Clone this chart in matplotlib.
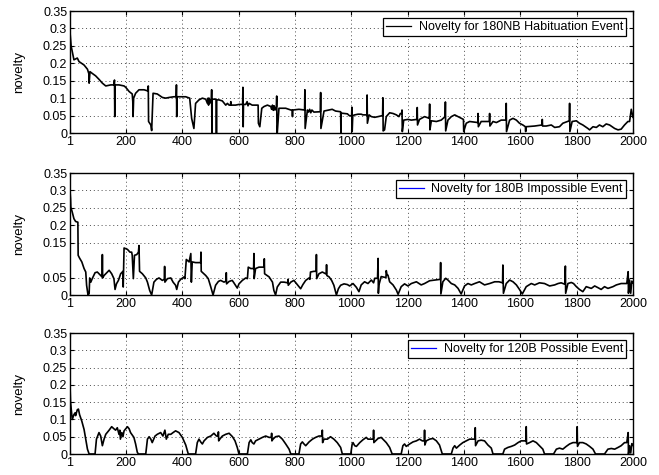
import matplotlib
matplotlib.use("Agg")
import matplotlib.pyplot as plt
from matplotlib.lines import Line2D

plt.rcParams['font.family'] = ['Liberation Sans', 'DejaVu Sans']
plt.rcParams['font.size'] = 9

# novelty traces, (sample index, novelty)
habituation = [
    (1, 0.29), (5, 0.25), (15, 0.21), (27, 0.215), (33, 0.205), (51, 0.195), (63, 0.183),
    (68, 0.17), (69, 0.143), (72, 0.176), (80, 0.171), (92, 0.164), (104, 0.154), (116, 0.143),
    (128, 0.135), (146, 0.138), (157, 0.138), (159, 0.152), (160, 0.047), (161, 0.138),
    (175, 0.138), (193, 0.135), (199, 0.131), (211, 0.119), (222, 0.112), (224, 0.09),
    (225, 0.047), (227, 0.1), (234, 0.114), (246, 0.124), (264, 0.124), (276, 0.121),
    (278, 0.121), (279, 0.135), (280, 0.033), (288, 0.023), (291, 0.007), (296, 0.114),
    (311, 0.112), (329, 0.102), (341, 0.1), (353, 0.102), (370, 0.104), (378, 0.104),
    (379, 0.138), (380, 0.047), (381, 0.104), (412, 0.104), (426, 0.1), (433, 0.042),
    (441, 0.013), (447, 0.085), (459, 0.095), (471, 0.1), (483, 0.097), (489, 0.085),
    (491, 0.1), (493, 0.08), (495, 0.1), (497, 0.085), (499, 0.095), (503, 0.09), (504, 0.124),
    (505, 0.0), (506, 0.097), (520, 0.097), (521, 0.0), (522, 0.095), (530, 0.095),
    (542, 0.092), (554, 0.08), (560, 0.085), (566, 0.08), (571, 0.08), (572, 0.09), (573, 0.08),
    (589, 0.08), (601, 0.082), (614, 0.082), (615, 0.131), (616, 0.018), (617, 0.082),
    (625, 0.082), (630, 0.09), (633, 0.078), (637, 0.085), (648, 0.08), (660, 0.08),
    (669, 0.08), (670, 0.028), (675, 0.018), (682, 0.071), (690, 0.076), (702, 0.08),
    (714, 0.076), (717, 0.068), (720, 0.08), (723, 0.065), (726, 0.078), (729, 0.066),
    (734, 0.076), (735, 0.106), (736, 0.0), (737, 0.0), (743, 0.071), (767, 0.071),
    (785, 0.066), (790, 0.066), (791, 0.047), (792, 0.066), (814, 0.068), (834, 0.066),
    (835, 0.124), (836, 0.013), (844, 0.066), (848, 0.06), (852, 0.068), (856, 0.058),
    (860, 0.066), (867, 0.06), (890, 0.061), (891, 0.116), (892, 0.013), (903, 0.063),
    (921, 0.066), (932, 0.068), (944, 0.063), (962, 0.061), (963, 0.0), (964, 0.057),
    (986, 0.055), (994, 0.049), (1001, 0.05), (1002, 0.074), (1003, 0.004), (1005, 0.05),
    (1012, 0.052), (1024, 0.054), (1035, 0.054), (1041, 0.052), (1055, 0.052), (1056, 0.109),
    (1057, 0.028), (1063, 0.052), (1071, 0.047), (1083, 0.045), (1095, 0.047), (1111, 0.05),
    (1112, 0.101), (1113, 0.006), (1118, 0.009), (1124, 0.047), (1136, 0.058), (1148, 0.056),
    (1160, 0.052), (1169, 0.047), (1174, 0.056), (1179, 0.056), (1180, 0.066), (1181, 0.004),
    (1186, 0.037), (1201, 0.039), (1213, 0.037), (1233, 0.039), (1234, 0.073), (1235, 0.023),
    (1242, 0.039), (1260, 0.047), (1277, 0.042), (1278, 0.083), (1279, 0.009), (1284, 0.035),
    (1302, 0.033), (1319, 0.037), (1333, 0.047), (1334, 0.089), (1335, 0.006), (1343, 0.037),
    (1355, 0.047), (1367, 0.052), (1379, 0.047), (1398, 0.039), (1399, 0.004), (1408, 0.028),
    (1420, 0.033), (1449, 0.03), (1450, 0.056), (1451, 0.018), (1461, 0.033), (1490, 0.033),
    (1491, 0.056), (1492, 0.02), (1503, 0.033), (1515, 0.03), (1532, 0.037), (1549, 0.037),
    (1550, 0.085), (1551, 0.004), (1562, 0.037), (1574, 0.042), (1586, 0.037), (1597, 0.028),
    (1609, 0.023), (1618, 0.018), (1619, 0.004), (1620, 0.018), (1651, 0.02), (1677, 0.023),
    (1678, 0.039), (1679, 0.02), (1692, 0.02), (1710, 0.023), (1722, 0.016), (1739, 0.018),
    (1751, 0.028), (1774, 0.035), (1775, 0.085), (1776, 0.004), (1784, 0.033), (1799, 0.035),
    (1810, 0.028), (1822, 0.023), (1840, 0.013), (1846, 0.009), (1858, 0.018), (1870, 0.016),
    (1881, 0.023), (1893, 0.018), (1905, 0.026), (1917, 0.023), (1935, 0.013), (1947, 0.009),
    (1958, 0.011), (1970, 0.023), (1982, 0.033), (1988, 0.033), (1994, 0.068), (2000, 0.045),
]

impossible = [
    (1, 0.30), (3, 0.276), (4, 0.252), (9, 0.238), (15, 0.219), (21, 0.211), (29, 0.209),
    (30, 0.114), (35, 0.106), (43, 0.095), (51, 0.076), (57, 0.066), (60, 0.028), (65, 0.0),
    (69, 0.004), (71, 0.049), (75, 0.037), (80, 0.047), (90, 0.064), (98, 0.066), (110, 0.056),
    (115, 0.052), (116, 0.116), (117, 0.049), (122, 0.056), (134, 0.066), (140, 0.071),
    (149, 0.061), (157, 0.047), (161, 0.016), (166, 0.032), (173, 0.042), (181, 0.061),
    (189, 0.068), (190, 0.023), (193, 0.135), (205, 0.131), (214, 0.123), (220, 0.123),
    (222, 0.114), (226, 0.047), (230, 0.114), (238, 0.116), (244, 0.123), (246, 0.142),
    (248, 0.068), (258, 0.061), (270, 0.049), (276, 0.037), (284, 0.013), (291, 0.0),
    (299, 0.037), (308, 0.045), (317, 0.049), (329, 0.042), (336, 0.045), (337, 0.082),
    (338, 0.037), (347, 0.047), (359, 0.049), (367, 0.037), (376, 0.028), (380, 0.016),
    (386, 0.037), (394, 0.045), (406, 0.052), (409, 0.047), (414, 0.102), (424, 0.095),
    (430, 0.119), (432, 0.037), (435, 0.095), (447, 0.093), (465, 0.093), (466, 0.123),
    (467, 0.068), (483, 0.056), (492, 0.047), (501, 0.023), (509, 0.0), (518, 0.028),
    (528, 0.039), (536, 0.042), (548, 0.037), (555, 0.04), (556, 0.064), (557, 0.032),
    (566, 0.039), (577, 0.042), (583, 0.035), (595, 0.02), (601, 0.032), (613, 0.042),
    (625, 0.049), (631, 0.047), (634, 0.08), (643, 0.076), (653, 0.076), (654, 0.119),
    (655, 0.047), (660, 0.076), (672, 0.08), (690, 0.08), (691, 0.104), (692, 0.061),
    (708, 0.052), (720, 0.037), (725, 0.013), (731, 0.0), (737, 0.023), (749, 0.037),
    (761, 0.037), (774, 0.035), (775, 0.045), (776, 0.028), (785, 0.037), (796, 0.042),
    (808, 0.03), (820, 0.018), (828, 0.03), (838, 0.042), (850, 0.049), (853, 0.045),
    (855, 0.066), (867, 0.068), (875, 0.068), (876, 0.116), (877, 0.047), (885, 0.061),
    (897, 0.066), (911, 0.06), (912, 0.087), (913, 0.056), (921, 0.052), (930, 0.042),
    (938, 0.028), (947, 0.0), (954, 0.018), (962, 0.028), (974, 0.032), (986, 0.03),
    (994, 0.026), (1006, 0.033), (1018, 0.022), (1027, 0.0096), (1035, 0.029), (1047, 0.038),
    (1059, 0.033), (1071, 0.043), (1079, 0.035), (1083, 0.048), (1093, 0.048), (1095, 0.105),
    (1096, 0.005), (1098, 0.029), (1106, 0.053), (1123, 0.05), (1124, 0.07), (1127, 0.057),
    (1130, 0.057), (1136, 0.038), (1148, 0.029), (1160, 0.014), (1166, 0.002), (1177, 0.024),
    (1189, 0.032), (1201, 0.026), (1213, 0.033), (1231, 0.038), (1248, 0.029), (1260, 0.033),
    (1278, 0.041), (1296, 0.043), (1316, 0.045), (1317, 0.093), (1318, 0.003), (1325, 0.038),
    (1335, 0.048), (1343, 0.043), (1355, 0.033), (1367, 0.029), (1379, 0.019), (1390, 0.003),
    (1402, 0.026), (1414, 0.033), (1426, 0.029), (1438, 0.033), (1455, 0.038), (1473, 0.029),
    (1491, 0.033), (1509, 0.038), (1524, 0.038), (1537, 0.035), (1538, 0.086), (1540, 0.005),
    (1550, 0.033), (1562, 0.043), (1574, 0.038), (1586, 0.029), (1597, 0.016), (1607, 0.003),
    (1621, 0.024), (1639, 0.033), (1651, 0.029), (1668, 0.035), (1686, 0.033), (1704, 0.026),
    (1722, 0.029), (1734, 0.033), (1745, 0.035), (1758, 0.031), (1760, 0.083), (1761, 0.005),
    (1769, 0.033), (1781, 0.036), (1789, 0.033), (1799, 0.024), (1810, 0.016), (1822, 0.0096),
    (1834, 0.024), (1852, 0.019), (1864, 0.026), (1876, 0.021), (1887, 0.016), (1899, 0.024),
    (1911, 0.019), (1929, 0.024), (1941, 0.029), (1958, 0.033), (1978, 0.033), (1983, 0.067),
    (1984, 0.005), (1988, 0.043), (1992, 0.005), (1996, 0.04), (2000, 0.035),
]

possible = [
    (1, 0.20), (3, 0.15), (5, 0.133), (9, 0.10), (15, 0.114), (19, 0.119), (21, 0.111),
    (27, 0.128), (31, 0.13), (35, 0.114), (43, 0.095), (51, 0.071), (57, 0.043), (63, 0.014),
    (69, 0.0), (90, 0.0), (95, 0.043), (104, 0.062), (110, 0.052), (116, 0.024), (122, 0.043),
    (128, 0.057), (140, 0.069), (149, 0.079), (157, 0.073), (163, 0.069), (169, 0.076),
    (175, 0.057), (177, 0.057), (178, 0.069), (180, 0.043), (185, 0.062), (189, 0.05),
    (193, 0.067), (199, 0.073), (205, 0.079), (211, 0.073), (216, 0.062), (228, 0.048),
    (234, 0.029), (240, 0.005), (244, 0.0), (270, 0.0), (276, 0.043), (282, 0.05),
    (288, 0.043), (293, 0.033), (303, 0.052), (311, 0.057), (323, 0.062), (331, 0.052),
    (338, 0.069), (343, 0.043), (350, 0.057), (359, 0.057), (367, 0.062), (376, 0.067),
    (388, 0.062), (400, 0.048), (412, 0.026), (421, 0.0), (447, 0.0), (453, 0.033),
    (459, 0.043), (465, 0.035), (471, 0.029), (477, 0.038), (489, 0.048), (501, 0.052),
    (512, 0.06), (521, 0.052), (527, 0.052), (528, 0.064), (529, 0.038), (533, 0.043),
    (542, 0.052), (554, 0.057), (566, 0.06), (578, 0.05), (587, 0.038), (595, 0.019),
    (601, 0.0), (631, 0.0), (637, 0.033), (643, 0.041), (648, 0.033), (654, 0.029),
    (660, 0.038), (672, 0.043), (684, 0.048), (696, 0.052), (708, 0.048), (716, 0.048),
    (717, 0.06), (718, 0.038), (722, 0.043), (731, 0.05), (743, 0.052), (755, 0.043),
    (767, 0.029), (779, 0.014), (785, 0.0), (814, 0.0), (820, 0.029), (826, 0.035),
    (832, 0.029), (838, 0.024), (850, 0.035), (862, 0.043), (873, 0.048), (885, 0.052),
    (896, 0.052), (897, 0.069), (898, 0.033), (903, 0.043), (915, 0.043), (926, 0.05),
    (938, 0.043), (950, 0.033), (962, 0.019), (968, 0.0), (998, 0.0), (1003, 0.029),
    (1006, 0.033), (1012, 0.024), (1018, 0.022), (1030, 0.033), (1041, 0.041), (1053, 0.048),
    (1059, 0.043), (1078, 0.043), (1079, 0.069), (1080, 0.033), (1086, 0.038), (1095, 0.045),
    (1106, 0.048), (1112, 0.043), (1124, 0.033), (1136, 0.019), (1145, 0.0), (1177, 0.0),
    (1183, 0.024), (1189, 0.029), (1195, 0.022), (1207, 0.029), (1219, 0.035), (1231, 0.038),
    (1242, 0.043), (1252, 0.038), (1259, 0.038), (1260, 0.069), (1261, 0.026), (1266, 0.038),
    (1278, 0.043), (1290, 0.045), (1302, 0.038), (1313, 0.026), (1323, 0.0), (1355, 0.0),
    (1361, 0.017), (1367, 0.024), (1373, 0.017), (1385, 0.026), (1396, 0.033), (1408, 0.038),
    (1420, 0.043), (1439, 0.043), (1440, 0.076), (1441, 0.024), (1450, 0.038), (1461, 0.04),
    (1473, 0.038), (1485, 0.026), (1497, 0.017), (1503, 0.0), (1538, 0.0), (1544, 0.014),
    (1556, 0.019), (1568, 0.022), (1580, 0.026), (1592, 0.033), (1603, 0.038), (1620, 0.038),
    (1621, 0.079), (1622, 0.029), (1633, 0.033), (1645, 0.038), (1657, 0.033), (1668, 0.024),
    (1680, 0.014), (1686, 0.0), (1718, 0.0), (1728, 0.014), (1739, 0.017), (1751, 0.014),
    (1763, 0.022), (1775, 0.029), (1787, 0.033), (1801, 0.033), (1802, 0.079), (1803, 0.022),
    (1810, 0.033), (1822, 0.033), (1834, 0.029), (1846, 0.022), (1858, 0.014), (1867, 0.0),
    (1899, 0.0), (1911, 0.014), (1923, 0.016), (1935, 0.014), (1947, 0.019), (1958, 0.024),
    (1970, 0.033), (1978, 0.033), (1983, 0.062), (1984, 0.0), (1988, 0.024), (1992, 0.003),
    (1996, 0.03), (2000, 0.025),
]

labels = ['Novelty for 180NB Habituation Event',
          'Novelty for 180B Impossible Event',
          'Novelty for 120B Possible Event']
legend_colors = ['black', 'blue', 'blue']
xticks = [1, 200, 400, 600, 800, 1000, 1200, 1400, 1600, 1800, 2000]
yticks_full = [0, 0.05, 0.1, 0.15, 0.2, 0.25, 0.3, 0.35]
yticks_no01 = [0, 0.05, 0.15, 0.2, 0.25, 0.3, 0.35]

series = [(habituation, yticks_full), (impossible, yticks_no01), (possible, yticks_full)]
boxes = [[0.1062, 0.720, 0.8543, 0.2568],
         [0.1062, 0.3789, 0.8543, 0.2568],
         [0.1062, 0.0442, 0.8543, 0.2547]]

fig = plt.figure(figsize=(6.59, 4.75), dpi=100)
for (pts, yt), box, lab, lc in zip(series, boxes, labels, legend_colors):
    ax = fig.add_axes(box)
    xs, ys = zip(*pts)
    ax.plot(xs, ys, color='black', linewidth=1.2)
    ax.set_xlim(1, 2000)
    ax.set_ylim(0, 0.35)
    ax.set_xticks(xticks)
    ax.set_yticks(yt)
    ax.set_yticklabels([('%g' % t) for t in yt])
    ax.grid(True, linestyle=(0, (1, 3)), color='0.3', linewidth=0.7)
    ax.tick_params(direction='in', top=True, right=True, length=3, width=0.8, pad=2)
    for s in ax.spines.values():
        s.set_linewidth(1.0)
    ax.set_ylabel('novelty', fontsize=9.5)
    ax.yaxis.set_label_coords(-0.08, 0.5)
    h = Line2D([], [], color=lc, linewidth=0.9)
    leg = ax.legend([h], [lab], loc='upper right', fancybox=False, framealpha=1,
                    edgecolor='black', handlelength=2.0, borderaxespad=0.55,
                    borderpad=0.25, handletextpad=0.6)
    leg.get_frame().set_linewidth(0.9)

fig.savefig('out.png', dpi=100)
